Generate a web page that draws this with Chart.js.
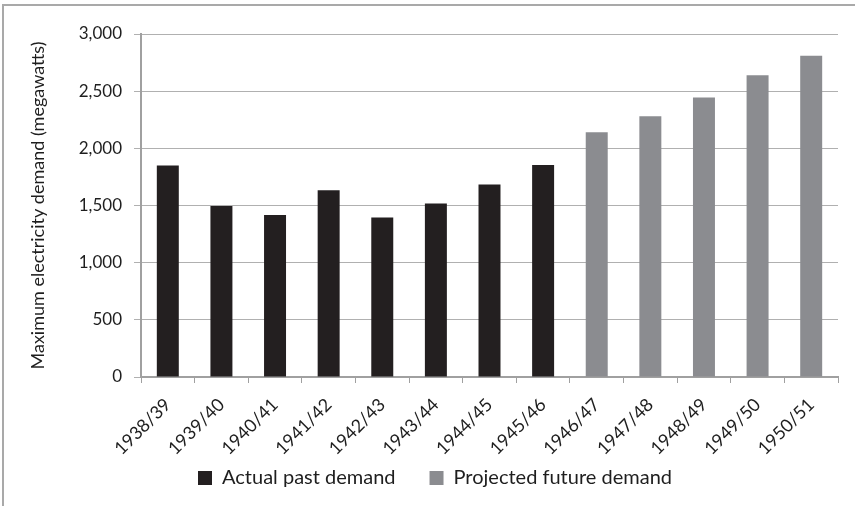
<!DOCTYPE html>
<html>
<head>
<meta charset="utf-8">
<script src="https://cdn.jsdelivr.net/npm/chart.js@4.4.1/dist/chart.umd.min.js"></script>
<style>
  html, body { margin: 0; padding: 0; background: #fff; }
  #wrap { width: 855px; height: 506px; position: relative; }
</style>
</head>
<body>
<div id="wrap"><canvas id="c" width="855" height="506"></canvas></div>
<script>
const categories = ["1938/39","1939/40","1940/41","1941/42","1942/43","1943/44","1944/45","1945/46","1946/47","1947/48","1948/49","1949/50","1950/51"];
const actualDemand = [1850, 1495, 1418, 1634, 1395, 1518, 1684, 1855, null, null, null, null, null];
const projectedDemand = [null, null, null, null, null, null, null, null, 2140, 2280, 2445, 2640, 2810];
const seriesNames = ["Actual past demand", "Projected future demand"];
const yTitle = "Maximum electricity demand (megawatts)";

const FONT = "Lato, 'Open Sans', sans-serif";
const TXT = "#1e1e1e";

const framePlugin = {
  id: 'frame',
  beforeDraw(chart) {
    const ctx = chart.ctx;
    ctx.save();
    ctx.fillStyle = '#fff';
    ctx.fillRect(0, 0, chart.width, chart.height);
    ctx.fillStyle = '#a9a9a9';
    ctx.fillRect(2, 4, 2, chart.height - 4);
    ctx.fillRect(2, 4, chart.width - 2, 2);
    ctx.restore();
  }
};

new Chart(document.getElementById('c'), {
  type: 'bar',
  data: {
    labels: categories,
    datasets: [
      { label: seriesNames[0], data: actualDemand, backgroundColor: '#231f20', grouped: false,
        categoryPercentage: 1, barPercentage: 0.41 },
      { label: seriesNames[1], data: projectedDemand, backgroundColor: '#8b8c90', grouped: false,
        categoryPercentage: 1, barPercentage: 0.41 }
    ]
  },
  options: {
    responsive: false,
    animation: false,
    devicePixelRatio: 1,
    layout: { padding: { top: 34, right: 17, left: 32, bottom: 8 } },
    plugins: {
      tooltip: { enabled: false },
      title: { display: false },
      legend: {
        position: 'bottom',
        labels: {
          boxWidth: 14, boxHeight: 14, padding: 34,
          color: TXT,
          font: { family: FONT, size: 20 }
        }
      }
    },
    scales: {
      x: {
        offset: true,
        grid: { display: true, drawOnChartArea: false, offset: true, tickLength: 6, color: '#a0a0a0', lineWidth: 1 },
        border: { display: true, color: '#a0a0a0', width: 2 },
        ticks: { color: TXT, font: { family: FONT, size: 18 }, maxRotation: 45, minRotation: 45, padding: 11, autoSkip: false },
        afterFit(scale) {
          scale.height = 57;
          scale._computeLabelArea = () => null;
        }
      },
      y: {
        min: 0, max: 3000,
        ticks: { stepSize: 500, color: TXT, font: { family: FONT, size: 17 }, padding: 12,
          callback: v => v.toLocaleString('en-US') },
        grid: { color: '#b0b0b0', lineWidth: 1, tickLength: 7 },
        border: { display: true, color: '#a0a0a0', width: 2 },
        title: { display: true, text: yTitle, color: TXT, font: { family: FONT, size: 18 }, padding: { top: -5, bottom: 0 } },
        afterFit(scale) { scale.width = 109; }
      }
    }
  },
  plugins: [framePlugin]
});
</script>
</body>
</html>
